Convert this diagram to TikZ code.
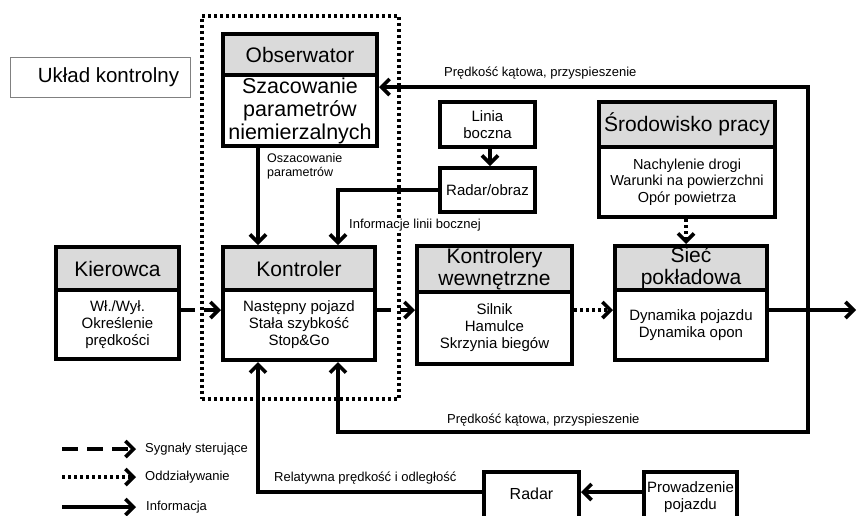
\documentclass[tikz,border=0pt]{standalone}
\usepackage{fontspec}
\setmainfont{Liberation Sans}
\usetikzlibrary{arrows.meta}
\definecolor{hdrgray}{RGB}{218,218,218}
\tikzset{
  x=1pt, y=-1pt,
  hdr/.style={draw, line width=4pt, fill=hdrgray, inner sep=0pt, align=center,
    font=\fontsize{21}{22}\selectfont, anchor=north west},
  bodybox/.style={draw, line width=4pt, fill=white, inner sep=0pt, align=center,
    font=\fontsize{15}{17}\selectfont, anchor=north west},
  tip/.style={-{Straight Barb[length=8pt,width=16pt,line width=3.6pt]}},
  info/.style={line width=3.2pt, tip},
  ctrl/.style={line width=3.2pt, tip, dash pattern=on 14pt off 9pt},
  infl/.style={line width=3.2pt, tip, dash pattern=on 3pt off 3pt},
  lbl/.style={font=\fontsize{13}{14}\selectfont, anchor=west, inner sep=1pt, align=left, fill=white},
}
\begin{document}
\begin{tikzpicture}
\useasboundingbox (0,0) rectangle (857,515);
\clip (0,0) rectangle (857,515);
% control system label
\node[draw=gray, line width=0.8pt, minimum width=180pt, minimum height=40pt, anchor=north west,
  font=\fontsize{20.5}{22}\selectfont] (uk) at (10,57) {\hspace*{16pt}Układ kontrolny};
% dotted frame
\node[draw, line width=3.8pt, dash pattern=on 3pt off 3pt, minimum width=197pt, minimum height=383pt,
  anchor=north west, inner sep=0pt] (frame) at (200,14) {};
% Obserwator
\node[hdr, minimum width=154pt, minimum height=41pt] (obsh) at (221,32) {Obserwator};
\node[bodybox, minimum width=154pt, minimum height=71pt, font=\fontsize{21.5}{23}\selectfont] (obsb) at (221,73)
  {Szacowanie\\parametrów\\niemierzalnych};
% Kierowca
\node[hdr, minimum width=123pt, minimum height=43pt] (kierh) at (54,245) {Kierowca};
\node[bodybox, minimum width=123pt, minimum height=69pt] (kierb) at (54,288)
  {Wł./Wył.\\Określenie\\prędkości};
% Kontroler
\node[hdr, minimum width=152pt, minimum height=43pt] (konth) at (221,245) {Kontroler};
\node[bodybox, minimum width=152pt, minimum height=70pt] (kontb) at (221,288)
  {Następny pojazd\\Stała szybkość\\Stop\&Go};
% Kontrolery wewnetrzne
\node[hdr, minimum width=155pt, minimum height=46pt, font=\fontsize{21}{22}\selectfont] (kwh) at (415,244) {Kontrolery\\wewnętrzne};
\node[bodybox, minimum width=155pt, minimum height=72pt] (kwb) at (415,290)
  {Silnik\\Hamulce\\Skrzynia biegów};
% Siec pokladowa
\node[hdr, minimum width=152pt, minimum height=44pt, font=\fontsize{21}{22}\selectfont] (sich) at (613,244) {Sieć\\pokładowa};
\node[bodybox, minimum width=152pt, minimum height=70pt] (sicb) at (613,288)
  {Dynamika pojazdu\\Dynamika opon};
% Srodowisko pracy
\node[hdr, minimum width=176pt, minimum height=45pt] (srh) at (597,100) {Środowisko pracy};
\node[bodybox, minimum width=176pt, minimum height=70pt, font=\fontsize{14.5}{16.7}\selectfont] (srb) at (597,145)
  {Nachylenie drogi\\Warunki na powierzchni\\Opór powietrza};
% Linia boczna, Radar/obraz
\node[bodybox, minimum width=95pt, minimum height=45pt] (lin) at (438,100) {Linia\\boczna};
\node[bodybox, minimum width=95pt, minimum height=44pt] (rob) at (438,166) {Radar/obraz};
% bottom boxes
\node[bodybox, minimum width=95pt, minimum height=60pt, font=\fontsize{16}{17}\selectfont, text depth=16pt] (rad) at (482,470) {Radar};
\node[bodybox, minimum width=93pt, minimum height=60pt, text depth=12pt] (prow) at (642,470) {Prowadzenie\\pojazdu};
% coordinates
\coordinate (out) at (856,310);
\coordinate (br) at (808,310);
\coordinate (c1) at (338,432);
\coordinate (c2) at (258,492);
% labels (white background, drawn before connectors where needed)
\node[lbl] (l1) at (443,73) {Prędkość kątowa, przyspieszenie};
\node[lbl, font=\fontsize{12.5}{13.5}\selectfont, fill=none] (l2) at (266,166.5) {Oszacowanie\\parametrów};
\node[lbl] (l3) at (348,225) {Informacje linii bocznej};
\node[lbl] (l4) at (446,420) {Prędkość kątowa, przyspieszenie};
\node[lbl] (l5) at (273,478) {Relatywna prędkość i odległość};
% connectors
\draw[info] (obsb.south -| 258,0) -- (konth.north -| 258,0);
\draw[info] (rob.west) -| (konth.north -| 338,0);
\draw[info] (lin.south -| 490,0) -- (rob.north -| 490,0);
\draw[ctrl] (kierb.east |- 0,310) -- (kontb.west |- 0,310);
\draw[ctrl] (kontb.east |- 0,310) -- (kwb.west |- 0,310);
\draw[infl] (kwb.east |- 0,310) -- (sicb.west |- 0,310);
\draw[info] (sicb.east |- 0,310) -- (out);
\draw[info] (br) |- (obsb.east |- 0,87);
\draw[info] (br) |- (c1) -- (kontb.south -| c1);
\draw[infl] (srb.south -| 686,0) -- (sich.north -| 686,0);
\draw[info] (prow.west |- 0,492) -- (rad.east |- 0,492);
\draw[info] (rad.west |- 0,492) -- (c2) -- (kontb.south -| c2);
% legend
\coordinate (g1a) at (62,449); \coordinate (g1b) at (136,449);
\coordinate (g2a) at (62,477); \coordinate (g2b) at (136,477);
\coordinate (g3a) at (62,507); \coordinate (g3b) at (136,507);
\draw[ctrl, dash pattern=on 16pt off 9pt] (g1a) -- (g1b);
\draw[infl] (g2a) -- (g2b);
\draw[info] (g3a) -- (g3b);
\node[lbl] (t1) at (144,449) {Sygnały sterujące};
\node[lbl] (t2) at (144,477) {Oddziaływanie};
\node[lbl] (t3) at (145,507) {Informacja};
\end{tikzpicture}
\end{document}
